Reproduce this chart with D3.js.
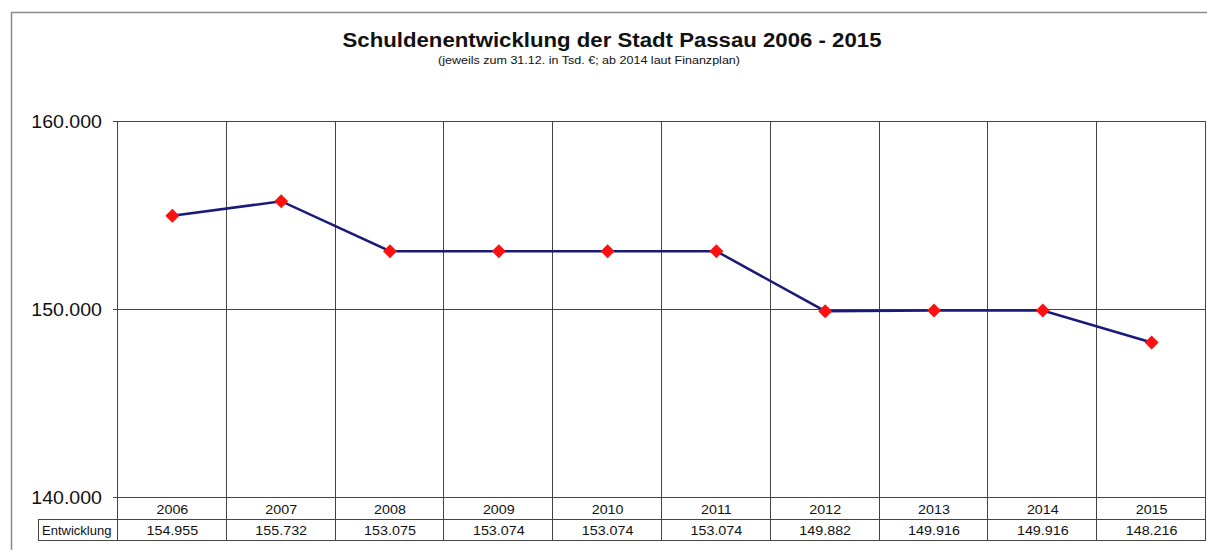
<!DOCTYPE html>
<html>
<head>
<meta charset="utf-8">
<script src="https://cdn.jsdelivr.net/npm/d3@7"></script>
<style>
  body { margin: 0; background: #fff; }
  svg { display: block; font-family: "Liberation Sans", Arial, sans-serif; }
</style>
</head>
<body>
<div id="chart"></div>
<script>
// Daten
const years = ["2006", "2007", "2008", "2009", "2010", "2011", "2012", "2013", "2014", "2015"];
const debt = [154955, 155732, 153075, 153074, 153074, 153074, 149882, 149916, 149916, 148216];
const yTicks = [140000, 150000, 160000];
const seriesName = "Entwicklung";

const width = 1207, height = 550;
const margin = { top: 121, right: 1, bottom: 53, left: 118 };
const tableTop = 519, tableBottom = 540, labelLeft = 38;

const fmtDE = v => {
  const s = String(Math.round(v));
  return s.slice(0, s.length - 3) + "." + s.slice(-3);
};

// Text horizontal etwas strecken (Original ist breiter gezogen)
function stretch(sel, k) {
  sel.each(function () {
    const len = this.getComputedTextLength();
    d3.select(this).attr("textLength", len * k).attr("lengthAdjust", "spacingAndGlyphs");
  });
}

const svg = d3.select("#chart").append("svg")
  .attr("width", width).attr("height", height);

svg.append("rect").attr("width", width).attr("height", height).attr("fill", "#fff");

// Rahmen
svg.append("path")
  .attr("d", `M11.5,${height}V12.5H${width}`)
  .attr("fill", "none").attr("stroke", "#8a8a8a").attr("stroke-width", 1.5);

const x = d3.scaleBand()
  .domain(years)
  .range([margin.left, width - margin.right]);

const y = d3.scaleLinear()
  .domain([140000, 160000])
  .range([height - margin.bottom, margin.top]);

// Titel
svg.append("text")
  .attr("x", 612).attr("y", 47)
  .attr("text-anchor", "middle")
  .attr("font-size", 19.5).attr("font-weight", "bold")
  .attr("fill", "#111")
  .attr("textLength", 539).attr("lengthAdjust", "spacingAndGlyphs")
  .text("Schuldenentwicklung der Stadt Passau 2006 - 2015");

svg.append("text")
  .attr("x", 589).attr("y", 64)
  .attr("text-anchor", "middle")
  .attr("font-size", 11.5)
  .attr("fill", "#111")
  .attr("textLength", 302).attr("lengthAdjust", "spacingAndGlyphs")
  .text("(jeweils zum 31.12. in Tsd. €; ab 2014 laut Finanzplan)");

// horizontale Gitterlinien
svg.append("g")
  .selectAll("line")
  .data(yTicks)
  .join("line")
  .attr("x1", margin.left - 5).attr("x2", width - margin.right)
  .attr("y1", d => Math.round(y(d)) + 0.5).attr("y2", d => Math.round(y(d)) + 0.5)
  .attr("stroke", "#444").attr("stroke-width", 1);

// y-Achse Beschriftung
svg.append("g")
  .selectAll("text")
  .data(yTicks)
  .join("text")
  .attr("x", 102).attr("y", d => y(d))
  .attr("dy", "0.36em")
  .attr("text-anchor", "end")
  .attr("font-size", 19)
  .attr("fill", "#111")
  .text(d => fmtDE(d))
  .call(stretch, 1.03);

// vertikale Linien (Kategorien + Tabelle)
const vLines = years.map(d => x(d)).concat([width - margin.right]);
svg.append("g")
  .selectAll("line")
  .data(vLines)
  .join("line")
  .attr("x1", d => Math.round(d) - 0.5).attr("x2", d => Math.round(d) - 0.5)
  .attr("y1", margin.top).attr("y2", tableBottom)
  .attr("stroke", "#444").attr("stroke-width", 1);

// Tabelle
svg.append("rect")
  .attr("x", labelLeft + 0.5).attr("y", tableTop + 0.5)
  .attr("width", margin.left - labelLeft - 1).attr("height", tableBottom - tableTop)
  .attr("fill", "none").attr("stroke", "#444");

svg.append("line")
  .attr("x1", labelLeft).attr("x2", width - margin.right)
  .attr("y1", tableTop + 0.5).attr("y2", tableTop + 0.5)
  .attr("stroke", "#444");
svg.append("line")
  .attr("x1", labelLeft).attr("x2", width - margin.right)
  .attr("y1", tableBottom + 0.5).attr("y2", tableBottom + 0.5)
  .attr("stroke", "#444");

svg.append("text")
  .attr("x", labelLeft + 4).attr("y", 530)
  .attr("dy", "0.36em")
  .attr("font-size", 13)
  .attr("fill", "#111")
  .text(seriesName);

svg.append("g")
  .selectAll("text")
  .data(years)
  .join("text")
  .attr("x", d => x(d) + x.bandwidth() / 2)
  .attr("y", 509)
  .attr("dy", "0.36em")
  .attr("text-anchor", "middle")
  .attr("font-size", 13)
  .attr("fill", "#111")
  .text(d => d)
  .call(stretch, 1.1);

svg.append("g")
  .selectAll("text")
  .data(debt)
  .join("text")
  .attr("x", (d, i) => x(years[i]) + x.bandwidth() / 2)
  .attr("y", 530)
  .attr("dy", "0.36em")
  .attr("text-anchor", "middle")
  .attr("font-size", 13.5)
  .attr("fill", "#111")
  .text(d => fmtDE(d))
  .call(stretch, 1.06);

// Linie
const line = d3.line()
  .x((d, i) => x(years[i]) + x.bandwidth() / 2)
  .y(d => y(d));

svg.append("path")
  .datum(debt)
  .attr("fill", "none")
  .attr("stroke", "#1a1a7a")
  .attr("stroke-width", 2.5)
  .attr("d", line);

// Marker (Rauten)
svg.append("g")
  .selectAll("path")
  .data(debt)
  .join("path")
  .attr("transform", (d, i) => `translate(${x(years[i]) + x.bandwidth() / 2},${y(d)})`)
  .attr("d", "M0,-7L7,0L0,7L-7,0Z")
  .attr("fill", "#ff1010");
</script>
</body>
</html>
